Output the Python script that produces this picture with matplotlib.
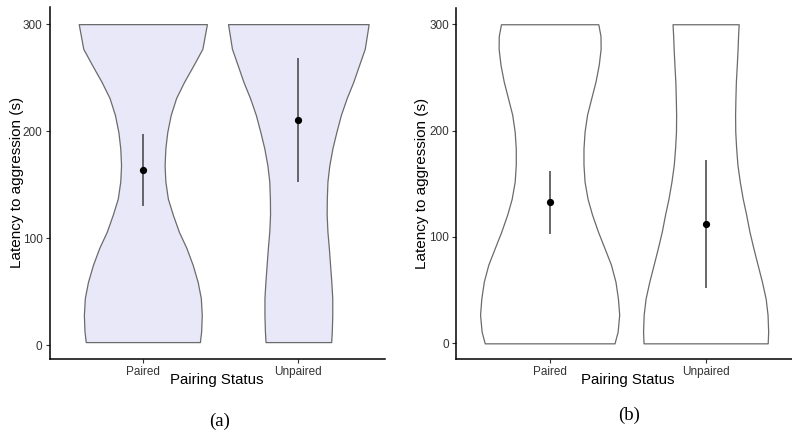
import matplotlib
matplotlib.use("Agg")
from matplotlib import pyplot

# violin outlines: y levels and half widths (in category units)
y_a = [300, 277, 262, 246, 231, 215, 199, 184, 168, 153, 137, 122, 106, 91, 75, 59, 44, 28, 13, 3]
paired_a_w = [0.412, 0.383, 0.327, 0.265, 0.214, 0.179, 0.157, 0.145, 0.140, 0.145,
              0.161, 0.193, 0.232, 0.280, 0.321, 0.353, 0.373, 0.379, 0.375, 0.367]
unpaired_a_w = [0.452, 0.427, 0.391, 0.353, 0.311, 0.273, 0.244, 0.219, 0.199, 0.187,
                0.183, 0.182, 0.187, 0.196, 0.204, 0.212, 0.218, 0.218, 0.215, 0.211]

y_b = [300, 289, 277, 262, 246, 230, 215, 199, 183, 168, 152, 136, 121, 105, 89, 74, 58, 42, 27, 11, 0]
paired_b_w = [0.312, 0.326, 0.327, 0.315, 0.294, 0.266, 0.240, 0.224, 0.217, 0.217, 0.224,
              0.243, 0.272, 0.310, 0.353, 0.393, 0.422, 0.438, 0.446, 0.436, 0.416]
unpaired_b_w = [0.212, 0.208, 0.205, 0.200, 0.194, 0.191, 0.189, 0.190, 0.196, 0.204, 0.219,
                0.238, 0.260, 0.281, 0.307, 0.333, 0.361, 0.385, 0.397, 0.401, 0.398]

groups = ["Paired", "Unpaired"]

# mean and interval for each group
mean_a = [164, 210]
low_a = [130, 153]
high_a = [197, 268]

mean_b = [132.5, 112]
low_b = [103, 52]
high_b = [162, 172]

fig = pyplot.figure(figsize=(7.92, 4.32), dpi=100)

ax1 = fig.add_axes([0.0625, 0.1697, 0.4236, 0.8141])
ax2 = fig.add_axes([0.5758, 0.1683, 0.4333, 0.8125])


def draw_panel(ax, y, widths, fill, means, lows, highs, xlim, ylim):
    for pos, w in zip([1, 2], widths):
        left = [pos - v for v in w]
        right = [pos + v for v in w]
        ax.fill_betweenx(y, left, right, facecolor=fill, edgecolor="#6b6b6b", linewidth=0.9)
    ax.vlines([1, 2], lows, highs, color="#404040", linewidth=1.1)
    ax.plot([1, 2], means, "o", color="black", markersize=4.2, linestyle="none")

    ax.set_xlim(*xlim)
    ax.set_ylim(*ylim)
    ax.set_xticks([1, 2])
    ax.set_xticklabels(groups)
    ax.set_yticks([0, 100, 200, 300])
    for side in ["top", "right"]:
        ax.spines[side].set_visible(False)
    for side in ["left", "bottom"]:
        ax.spines[side].set_linewidth(1.1)
        ax.spines[side].set_color("black")
    ax.tick_params(length=3, width=0.8, color="#333333", labelcolor="#333333",
                   labelsize=8.5, pad=2)
    for lab in ax.get_xticklabels() + ax.get_yticklabels():
        lab.set_fontfamily("Liberation Sans")
    ax.set_xlabel("Pairing Status", fontsize=10.8, family="Liberation Sans")
    ax.set_ylabel("Latency to aggression (s)", fontsize=11, family="Liberation Sans")


draw_panel(ax1, y_a, [paired_a_w, unpaired_a_w], "#e8e8f9", mean_a, low_a, high_a,
           (0.4, 2.557), (-12.5, 316))
draw_panel(ax2, y_b, [paired_b_w, unpaired_b_w], "white", mean_b, low_b, high_b,
           (0.4, 2.6), (-15, 315))

ax1.xaxis.set_label_coords(0.5, -0.04)
ax2.xaxis.set_label_coords(0.5, -0.04)
ax1.yaxis.set_label_coords(-0.076, 0.5)
ax2.yaxis.set_label_coords(-0.079, 0.5)

fig.text(220 / 792, 1 - 421.7 / 432, "(a)", ha="center", va="center",
         fontsize=13.5, family="Liberation Serif")
fig.text(629 / 792, 1 - 415.7 / 432, "(b)", ha="center", va="center",
         fontsize=13.5, family="Liberation Serif")

pyplot.savefig("out.png")
